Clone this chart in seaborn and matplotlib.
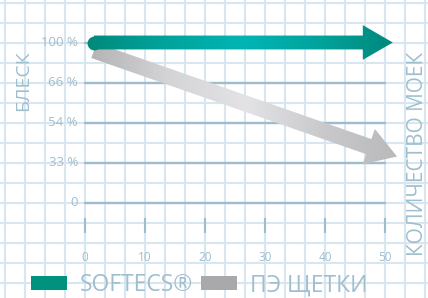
import numpy as np
import pandas as pd
import matplotlib
matplotlib.use("Agg")
import matplotlib.pyplot as plt
import seaborn as sns
from matplotlib.patches import FancyArrowPatch, Patch
from matplotlib.colors import LinearSegmentedColormap
from matplotlib.ticker import MultipleLocator

# ordinal brightness axis (evenly spaced levels)
level_labels = ["0", "33 %", "54 %", "66 %", "100 %"]
level_pos = [0, 1, 2, 3, 4]
wash_ticks = [0, 10, 20, 30, 40, 50]

# arrows: x = washes, y = level position
softecs_x = [1.5, 51.3]
softecs_y = [4.0, 4.0]
pe_x = [1.5, 52.0]
pe_y = [3.8, 1.15]

series_names = ["SOFTECS®", "ПЭ ЩЕТКИ"]
series_colors = ["#00927f", "#a9a9ab"]

txt_color = "#9fbece"
line_color = "#9dbccd"
paper_color = "#d8e6ef"

sns.set_theme(style="white")
plt.rcParams["font.family"] = ["Open Sans", "DejaVu Sans"]

fig = plt.figure(figsize=(4.28, 2.98), dpi=100)
ax = fig.add_axes([0, 0, 1, 1])

# level lines
levels = pd.DataFrame({
    "x": [0, 50] * len(level_pos),
    "pos": np.repeat(level_pos, 2),
    "lvl": np.repeat(level_labels, 2),
})
sns.lineplot(data=levels, x="x", y="pos", units="lvl", estimator=None,
             color=line_color, lw=1.7, ax=ax, zorder=2)
ax.set_xlabel("")
ax.set_ylabel("")

for p, lab in zip(level_pos, level_labels):
    ax.text(-1.17, p, lab, ha="right", va="center", fontsize=9.5, color=txt_color)

# detached x ticks + labels
ax.vlines(wash_ticks, -0.38, -0.75, color=line_color, lw=1.5, zorder=2)
for t in wash_ticks:
    ax.text(t, -1.375, str(t), ha="center", va="center", fontsize=8.5, color=txt_color)


def gradient_arrow(x, y, colors, tail, head_w, head_l, z):
    arrow = FancyArrowPatch((x[0], y[0]), (x[1], y[1]),
                            arrowstyle=f"simple,head_length={head_l},head_width={head_w},tail_width={tail}",
                            mutation_scale=1, shrinkA=0, shrinkB=0,
                            facecolor="none", edgecolor="none", zorder=z)
    ax.add_patch(arrow)
    cmap = LinearSegmentedColormap.from_list("g", colors)
    grad = np.linspace(0, 1, 256).reshape(1, -1)
    im = ax.imshow(grad, cmap=cmap, aspect="auto", interpolation="bilinear",
                   extent=(min(x) - 1, max(x) + 1, min(y) - 0.7, max(y) + 0.7), zorder=z)
    im.set_clip_path(arrow)


gradient_arrow(pe_x, pe_y, ["#b3b3b5", "#d4d4d6", "#e3e3e5", "#c9c9cb", "#b8b8ba"],
               11.5, 27, 21.6, 3)
ax.scatter([softecs_x[0]], [softecs_y[0]], s=100, color="#008a7c", lw=0, zorder=4)
gradient_arrow(softecs_x, softecs_y, ["#008a7c", "#00a39c", "#00b5b5", "#00a39b", "#00857a"],
               10, 25, 21.6, 4)

# axis titles
ax.text(-10.33, 3.04, "БЛЕСК", rotation=90, ha="center", va="center",
        fontsize=14, color=txt_color)
ax.text(55.4, 1.225, "КОЛИЧЕСТВО МОЕК", rotation=90, ha="center", va="center",
        fontsize=15, color=txt_color)

# graph paper
ax.set_xticks([])
ax.set_yticks([])
ax.xaxis.set_minor_locator(MultipleLocator(10 / 3))
ax.yaxis.set_minor_locator(MultipleLocator(0.5))
ax.tick_params(which="minor", length=0)
ax.grid(which="minor", color=paper_color, lw=1.5)
ax.set_axisbelow(True)
for s in ax.spines.values():
    s.set_visible(False)

ax.set_xlim(-85 / 6, 343 / 6)
ax.set_ylim(-95.5 / 40, 202.5 / 40)

handles = [Patch(facecolor=c, edgecolor="none") for c in series_colors]
ax.legend(handles, series_names, loc="lower left",
          bbox_to_anchor=(31 / 428, 1 / 298), bbox_transform=fig.transFigure,
          ncol=2, frameon=False, fontsize=16.5, handlelength=1.57, handleheight=0.61,
          handletextpad=0.57, columnspacing=0.35, borderpad=0, borderaxespad=0,
          labelcolor=txt_color)

fig.savefig("out.png", dpi=100, facecolor="white")
